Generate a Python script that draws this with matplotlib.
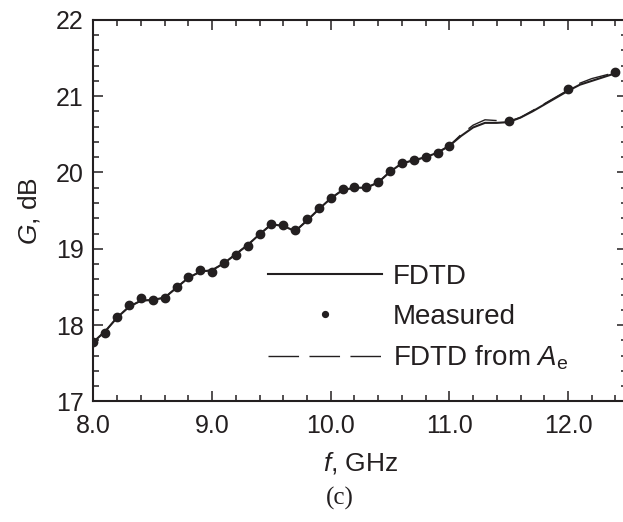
import matplotlib
matplotlib.use('Agg')
import matplotlib.pyplot as plt
from matplotlib.ticker import MultipleLocator, FormatStrFormatter

plt.rcParams['font.family'] = ['Liberation Sans', 'DejaVu Sans']
plt.rcParams['mathtext.fontset'] = 'custom'
plt.rcParams['mathtext.rm'] = 'Liberation Sans'
plt.rcParams['mathtext.it'] = 'Liberation Sans:italic'
plt.rcParams['lines.scale_dashes'] = False

ink = '#231f20'

# measured gain, 0.1 GHz steps up to 11 GHz, then a few spot frequencies
f_meas = [8.0, 8.1, 8.2, 8.3, 8.4, 8.5, 8.6, 8.7, 8.8, 8.9, 9.0,
          9.1, 9.2, 9.3, 9.4, 9.5, 9.6, 9.7, 9.8, 9.9, 10.0,
          10.1, 10.2, 10.3, 10.4, 10.5, 10.6, 10.7, 10.8, 10.9, 11.0,
          11.5, 12.0, 12.4]
g_meas = [17.78, 17.90, 18.11, 18.26, 18.35, 18.33, 18.36, 18.50, 18.63, 18.72, 18.70,
          18.81, 18.92, 19.03, 19.19, 19.33, 19.31, 19.25, 19.39, 19.53, 19.67,
          19.78, 19.81, 19.81, 19.87, 20.02, 20.13, 20.16, 20.20, 20.26, 20.35,
          20.67, 21.09, 21.31]

# FDTD gain
f_fdtd = [8.0, 8.1, 8.2, 8.3, 8.4, 8.5, 8.6, 8.7, 8.8, 8.9, 9.0,
          9.1, 9.2, 9.3, 9.4, 9.5, 9.6, 9.7, 9.8, 9.9, 10.0,
          10.1, 10.2, 10.3, 10.4, 10.5, 10.6, 10.7, 10.8, 10.9, 11.0,
          11.1, 11.2, 11.3, 11.4, 11.5, 11.6, 11.7, 11.8, 11.9, 12.0,
          12.1, 12.2, 12.3, 12.4]
g_fdtd = [17.78, 17.92, 18.10, 18.24, 18.32, 18.33, 18.36, 18.49, 18.62, 18.70, 18.72,
          18.81, 18.93, 19.05, 19.19, 19.32, 19.30, 19.23, 19.37, 19.52, 19.66,
          19.77, 19.80, 19.80, 19.87, 20.01, 20.12, 20.16, 20.20, 20.26, 20.35,
          20.48, 20.59, 20.65, 20.65, 20.66, 20.72, 20.80, 20.89, 20.98, 21.07,
          21.15, 21.20, 21.25, 21.30]

# FDTD gain obtained from effective aperture
g_ae = [17.78, 17.92, 18.10, 18.24, 18.32, 18.33, 18.36, 18.49, 18.62, 18.70, 18.72,
        18.81, 18.93, 19.05, 19.19, 19.32, 19.30, 19.23, 19.37, 19.52, 19.66,
        19.77, 19.80, 19.80, 19.87, 20.01, 20.12, 20.16, 20.20, 20.26, 20.35,
        20.50, 20.62, 20.69, 20.68, 20.67, 20.72, 20.81, 20.90, 20.99, 21.08,
        21.17, 21.23, 21.27, 21.31]

fig = plt.figure(figsize=(6.23, 5.22), dpi=100)
ax = fig.add_axes([0.150, 0.231, 0.857, 0.731])

ax.plot(f_fdtd, g_ae, color=ink, lw=1.0, dashes=(22, 7.5), label=r'FDTD from $A_\mathrm{e}$')
ax.plot(f_fdtd, g_fdtd, color=ink, lw=1.5, label='FDTD')
ax.plot(f_meas, g_meas, 'o', color=ink, ms=6, label='Measured')

ax.set_xlim(8.0, 12.5)
ax.set_ylim(17, 22)
ax.xaxis.set_major_locator(MultipleLocator(1.0))
ax.xaxis.set_minor_locator(MultipleLocator(0.2))
ax.yaxis.set_major_locator(MultipleLocator(1))
ax.yaxis.set_minor_locator(MultipleLocator(0.2))
ax.xaxis.set_major_formatter(FormatStrFormatter('%.1f'))

ax.tick_params(which='both', direction='in', top=True, right=True, color=ink,
               labelcolor=ink, labelsize=18, width=1.1)
ax.tick_params(which='major', length=7, pad=7)
ax.tick_params(axis='x', which='major', pad=9)
ax.tick_params(which='minor', length=4.5)
for s in ax.spines.values():
    s.set_linewidth(1.5)
    s.set_color(ink)

ax.set_xlabel(r'$f$, GHz', fontsize=19, color=ink, labelpad=9)
ax.set_ylabel(r'$G$, dB', fontsize=19, color=ink, labelpad=10)

h, l = ax.get_legend_handles_labels()
order = [1, 2, 0]
ax.legend([h[i] for i in order], [l[i] for i in order], loc='upper left',
          bbox_to_anchor=(0.327, 0.360), frameon=False, fontsize=20,
          handlelength=4.1, handletextpad=0.4, labelspacing=0.5,
          borderpad=0, borderaxespad=0, markerscale=0.7, labelcolor=ink)

fig.text(0.545, 0.046, '(c)', family='Liberation Serif', fontsize=18,
         color=ink, ha='center', va='center')

fig.savefig('out.png', dpi=100)
